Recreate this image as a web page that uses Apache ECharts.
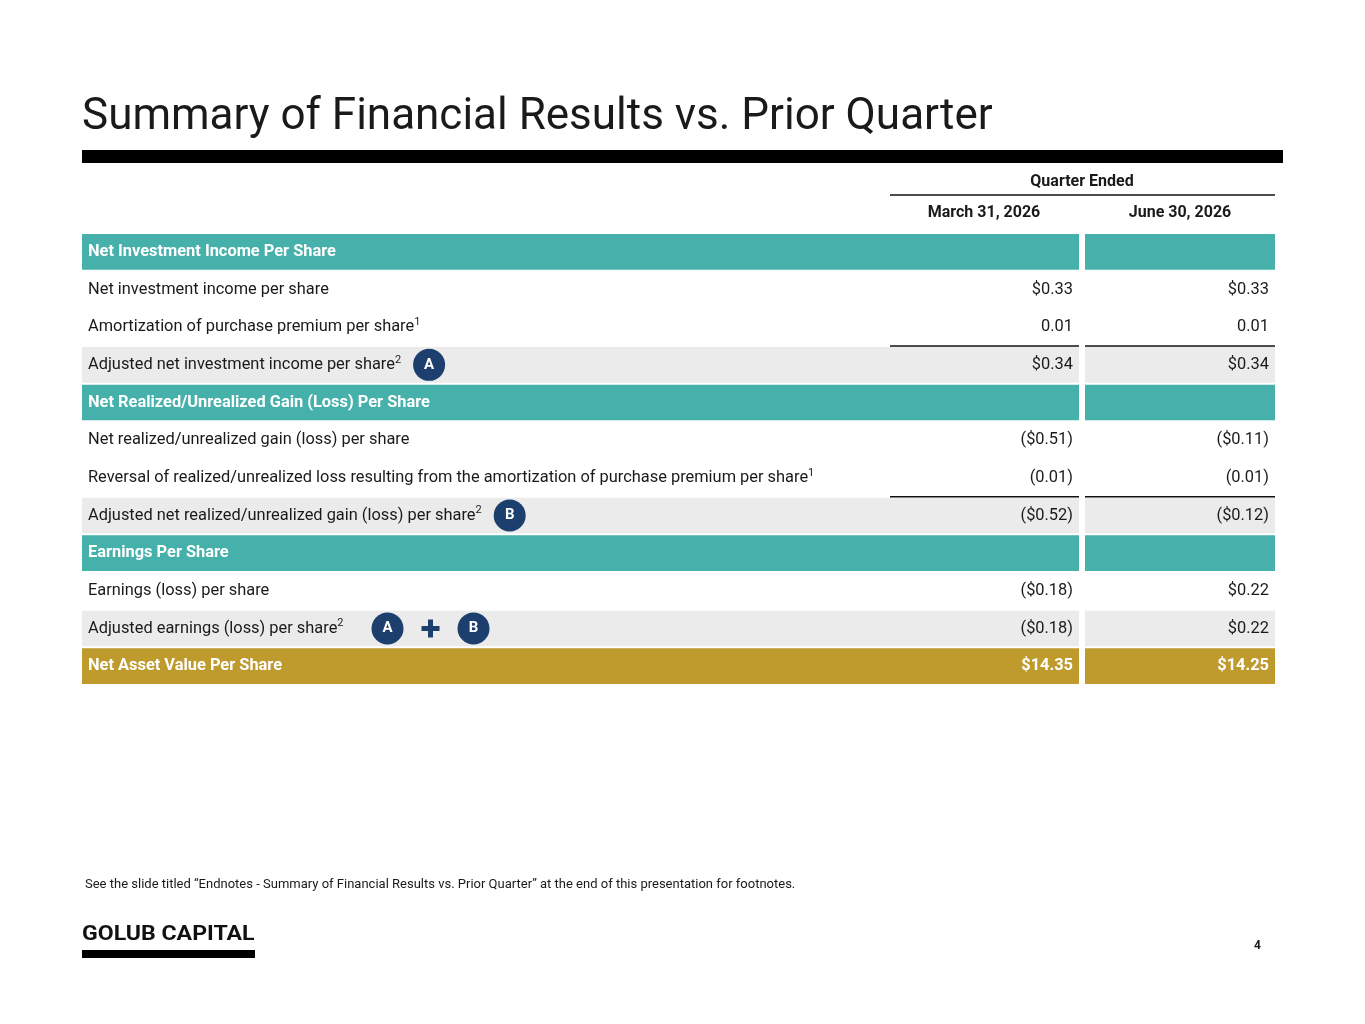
<!DOCTYPE html>
<html><head><meta charset="utf-8">
<script src="https://cdn.jsdelivr.net/npm/echarts@6/dist/echarts.min.js"></script>
<style>html,body{margin:0;padding:0;background:#fff}#c{width:1365px;height:1024px}</style>
</head><body><div id="c"></div>
<script>
const rowLabels = [
  "Net Investment Income Per Share",
  "Net investment income per share",
  "Amortization of purchase premium per share{sup|1}",
  "Adjusted net investment income per share{sup|2}",
  "Net Realized/Unrealized Gain (Loss) Per Share",
  "Net realized/unrealized gain (loss) per share",
  "Reversal of realized/unrealized loss resulting from the amortization of purchase premium per share{sup|1}",
  "Adjusted net realized/unrealized gain (loss) per share{sup|2}",
  "Earnings Per Share",
  "Earnings (loss) per share",
  "Adjusted earnings (loss) per share{sup|2}",
  "Net Asset Value Per Share"
];
const rowTypes = ["header","plain","plain","adjusted","header","plain","plain","adjusted","header","plain","adjusted","nav"];
const rowRule = [0,0,0,1,0,0,0,1,0,0,0,0];
const col1Values = ["", "$0.33", "0.01", "$0.34", "", "($0.51)", "(0.01)", "($0.52)", "", "($0.18)", "($0.18)", "$14.35"];
const col2Values = ["", "$0.33", "0.01", "$0.34", "", "($0.11)", "(0.01)", "($0.12)", "", "$0.22", "$0.22", "$14.25"];
const rowBadges = [[],[],[],["A"],[],[],[],["B"],[],[],["A","+","B"],[]];
const columnHeaders = ["March 31, 2026", "June 30, 2026"];
const groupHeader = "Quarter Ended";

const FONT = 'Roboto, "Open Sans", sans-serif';
const FS = 16.4;
const ctx = document.createElement('canvas').getContext('2d');
function plainWidth(label, bold){
  const parts = label.split(/\{sup\|([^}]*)\}/);
  ctx.font = (bold ? 'bold ' : '') + FS + 'px Roboto';
  let w = ctx.measureText(parts[0]).width;
  if (parts.length > 1){ ctx.font = '11px Roboto'; w += ctx.measureText(parts[1]).width; }
  return w;
}

const chart = echarts.init(document.getElementById('c'));
const navy = '#1d3f6e', teal = '#46b1ab', grey = '#ebebeb', gold = '#bf9a2d';

function renderItem(params, api){
  const i = api.value(0);
  const yc = api.coord([82, i])[1];
  const h = api.size([0, 1])[1];
  const top = yc - h/2 + 1, hh = h - 2;
  const xL = api.coord([82, i])[0], xS = api.coord([1079, i])[0], xC2 = api.coord([1085, i])[0], xR = api.coord([1275, i])[0];
  const x1a = api.coord([890, i])[0];
  const t = rowTypes[i];
  const ch = [];
  const bg = t === 'header' ? teal : t === 'adjusted' ? grey : t === 'nav' ? gold : null;
  if (bg){
    ch.push({type:'rect', shape:{x:xL, y:top, width:xS-xL, height:hh}, style:{fill:bg}});
    ch.push({type:'rect', shape:{x:xC2, y:top, width:xR-xC2, height:hh}, style:{fill:bg}});
  }
  if (rowRule[i]){
    ch.push({type:'line', shape:{x1:x1a, y1:top-1, x2:xS, y2:top-1}, style:{stroke:'#111', lineWidth:1.5}});
    ch.push({type:'line', shape:{x1:xC2, y1:top-1, x2:xR, y2:top-1}, style:{stroke:'#111', lineWidth:1.5}});
  }
  const bold = (t === 'header' || t === 'nav');
  const color = bold ? '#fff' : '#1a1a1a';
  ch.push({type:'text', x:xL+6, y:yc, style:{text:rowLabels[i], fill:color, font:(bold?'bold ':'')+FS+'px '+FONT, verticalAlign:'middle',
    rich:{sup:{fontSize:11, fill:color, verticalAlign:'top', padding:[0,0,10,0], fontFamily:'Roboto'}}}});
  [[col1Values[i], xS-6],[col2Values[i], xR-6]].forEach(([v,x])=>{
    if (v) ch.push({type:'text', x:x, y:yc, style:{text:v, fill:color, font:(bold?'bold ':'')+FS+'px '+FONT, align:'right', verticalAlign:'middle'}});
  });
  const b = rowBadges[i];
  if (b.length){
    let bx = xL + 6 + plainWidth(rowLabels[i], bold) + (b.length > 1 ? 44 : 28);
    b.forEach(s=>{
      if (s === '+'){
        ch.push({type:'rect', shape:{x:bx-9, y:yc-2.5, width:18, height:5}, style:{fill:navy}});
        ch.push({type:'rect', shape:{x:bx-2.5, y:yc-9, width:5, height:18}, style:{fill:navy}});
      } else {
        ch.push({type:'circle', shape:{cx:bx, cy:yc, r:16}, style:{fill:navy}});
        ch.push({type:'text', x:bx, y:yc, style:{text:s, fill:'#fff', font:'bold 15px '+FONT, align:'center', verticalAlign:'middle'}});
      }
      bx += 43;
    });
  }
  return {type:'group', children:ch};
}

chart.setOption({
  animation:false,
  grid:{left:82, right:90, top:233, bottom:339},
  xAxis:{type:'value', min:82, max:1275, show:false},
  yAxis:{type:'category', data:rowLabels.map((_,i)=>i), inverse:true, show:false},
  series:[{type:'custom', renderItem, data:rowLabels.map((_,i)=>[i]), clip:false}],
  graphic:[
    {type:'text', left:82, top:96, style:{text:'Summary of Financial Results vs. Prior Quarter', font:'44px '+FONT, fill:'#1a1a1a'}},
    {type:'rect', shape:{x:82, y:150, width:1201, height:13}, style:{fill:'#000'}},
    {type:'text', x:1082, y:182, style:{text:groupHeader, font:'bold 16px '+FONT, fill:'#1a1a1a', align:'center', verticalAlign:'middle'}},
    {type:'line', shape:{x1:890, y1:195, x2:1275, y2:195}, style:{stroke:'#111', lineWidth:1.5}},
    {type:'text', x:984, y:213, style:{text:columnHeaders[0], font:'bold 16px '+FONT, fill:'#1a1a1a', align:'center', verticalAlign:'middle'}},
    {type:'text', x:1180, y:213, style:{text:columnHeaders[1], font:'bold 16px '+FONT, fill:'#1a1a1a', align:'center', verticalAlign:'middle'}},
    {type:'text', x:85, y:885, style:{text:'See the slide titled \u201cEndnotes - Summary of Financial Results vs. Prior Quarter\u201d at the end of this presentation for footnotes.', font:'13px '+FONT, fill:'#1a1a1a', verticalAlign:'middle'}},
    {type:'text', x:82, y:935, scaleX:1.1, style:{text:'GOLUB CAPITAL', font:'bold 21px '+FONT, fill:'#111', verticalAlign:'middle'}},
    {type:'rect', shape:{x:82, y:950, width:173, height:8}, style:{fill:'#000'}},
    {type:'text', x:1261, y:946, style:{text:'4', font:'bold 12px '+FONT, fill:'#1a1a1a', align:'right', verticalAlign:'middle'}}
  ]
});
</script></body></html>
